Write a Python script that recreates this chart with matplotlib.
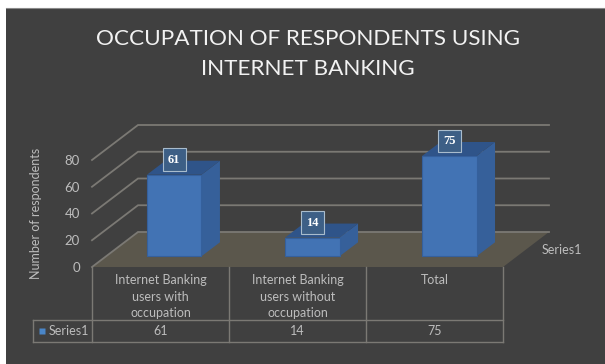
import matplotlib
matplotlib.use("Agg")
import matplotlib.pyplot as plt
from matplotlib.patches import Polygon, Rectangle

categories = ["Internet Banking\nusers with\noccupation",
              "Internet Banking\nusers without\noccupation",
              "Total"]
series_name = "Series1"
values = [61, 14, 75]
y_ticks = [0, 20, 40, 60, 80]
title = "OCCUPATION OF RESPONDENTS USING\nINTERNET BANKING"
y_label = "Number of respondents"

W, H = 605, 364
BG = "#404040"
GRID = "#7b7974"
FLOOR = "#5b574c"
TEXT = "#bdbdbd"
FRONT = "#4273b4"
SIDE = "#36609a"
TOP = "#2f5489"

plt.rcParams["font.family"] = ["Lato", "DejaVu Sans"]
fig = plt.figure(figsize=(W / 100, H / 100), dpi=100, facecolor="white")


def px_box(x0, y0, x1, y1):
    """Figure-fraction rectangle from pixel edges measured from the top left."""
    return [x0 / W, 1 - y1 / H, (x1 - x0) / W, (y1 - y0) / H]


# Dark chart panel, kept behind the axes
panel = fig.add_axes([6 / W, 0, 1 - 6 / W, 1 - 7.5 / H], zorder=-1)
panel.set_facecolor(BG)
panel.set_xticks([])
panel.set_yticks([])
for name, s in panel.spines.items():
    s.set_visible(name == "top")
    s.set_color("#8a8a8a")
    s.set_linewidth(0.8)

# Axes: one unit of x is a category column, y is in respondents
ax = fig.add_axes(px_box(92, 160, 503, 267))
ax.set_xlim(0, 3)
ax.set_ylim(0, 80)
ax.patch.set_visible(False)
for s in ax.spines.values():
    s.set_visible(False)

# Oblique depth of the chart box and of each bar, in axis units
DX, DY = 46 / 137, 35 / 1.3375
BDX, BDY = 18.5 / 137, 14 / 1.3375
BAR_W = 54.5 / 137
BAR_X0 = [0.401, 1.409, 2.409]
BAR_BASE = 8.0

ax.add_patch(Polygon([(0, 0), (3, 0), (3 + DX, DY), (DX, DY)], closed=True,
                     facecolor=FLOOR, edgecolor="none", zorder=1, clip_on=False))
for t in y_ticks:
    ax.plot([0, DX, 3 + DX], [t, t + DY, t + DY], color=GRID, lw=1.3, zorder=2,
            clip_on=False, solid_joinstyle="miter")

# Bars stand on the floor, set in from its front edge
for x0, v in zip(BAR_X0, values):
    x1 = x0 + BAR_W
    top = BAR_BASE + v
    ax.add_patch(Polygon([(x1, BAR_BASE), (x1 + BDX, BAR_BASE + BDY),
                          (x1 + BDX, top + BDY), (x1, top)], closed=True,
                         facecolor=SIDE, edgecolor="none", zorder=3, clip_on=False))
    ax.add_patch(Polygon([(x0, top), (x1, top), (x1 + BDX, top + BDY), (x0 + BDX, top + BDY)],
                         closed=True, facecolor=TOP, edgecolor="none", zorder=3, clip_on=False))
    ax.add_patch(Rectangle((x0, BAR_BASE), BAR_W, v, facecolor=FRONT,
                           edgecolor="#35609c", lw=0.8, zorder=4, clip_on=False))
    ax.annotate(str(v), xy=(x0 + BAR_W / 2, top), xytext=(0, 15), textcoords="offset pixels",
                ha="center", va="center", color="white", fontsize=9, fontweight="bold",
                family=["Liberation Serif"], zorder=6, annotation_clip=False,
                bbox=dict(boxstyle="square,pad=0.42", facecolor="#3d5f86",
                          edgecolor="#a9bccd", lw=0.8))

ax.set_xticks([])
ax.set_yticks(y_ticks)
ax.tick_params(axis="y", length=0, pad=8.6, labelsize=9.5, labelcolor=TEXT)
ax.set_ylabel(y_label, fontsize=9, color=TEXT, labelpad=0)
ax.yaxis.set_label_coords(-(92 - 42) / 411, 0.5)

# Data table below the floor
col_edges = [0, 1, 2, 3]
table_top = -39.5
table_bottom = -56
left_edge = (33 - 92) / 137
for x in col_edges:
    ax.plot([x, x], [0, table_bottom], color=GRID, lw=1, clip_on=False, zorder=2)
for y in (table_top, table_bottom):
    ax.plot([left_edge, 3], [y, y], color=GRID, lw=1, clip_on=False, zorder=2)
ax.plot([left_edge] * 2, [table_top, table_bottom], color=GRID, lw=1, clip_on=False, zorder=2)

for i, (cat, v) in enumerate(zip(categories, values)):
    ax.text(i + 0.5, -5.5, cat, ha="center", va="top", color=TEXT, fontsize=9,
            linespacing=1.42, clip_on=False)
    ax.text(i + 0.5, (table_top + table_bottom) / 2, str(v), ha="center", va="center",
            color=TEXT, fontsize=9, clip_on=False)

ax.plot([left_edge + 0.063], [(table_top + table_bottom) / 2], marker="s", ms=5,
        color="#4a86c8", mec="none", clip_on=False)
ax.text(left_edge + 0.117, (table_top + table_bottom) / 2, series_name, ha="left", va="center",
        color=TEXT, fontsize=9, clip_on=False)
ax.text(3 + 0.285, 12.5, series_name, ha="left", va="center", color=TEXT, fontsize=9,
        clip_on=False)

fig.text((96 + 519) / 2 / W, 1 - 54 / H, title, ha="center", va="center", color="#f2f2f2",
         fontsize=16.2, linespacing=1.62)

fig.savefig("out.png", dpi=100, facecolor="white")
